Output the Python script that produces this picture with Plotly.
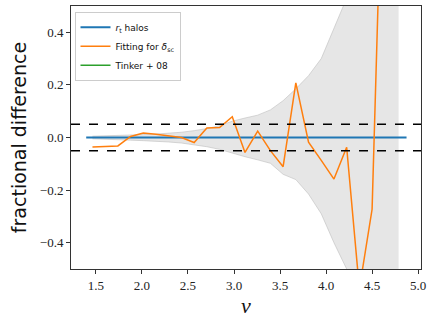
import plotly.graph_objects as go

# nu grid of the binned points
nu = [1.463, 1.601, 1.739, 1.877, 2.015, 2.153, 2.291, 2.429, 2.567, 2.705,
      2.843, 2.981, 3.119, 3.257, 3.395, 3.533, 3.671, 3.809, 3.947, 4.085,
      4.223, 4.361, 4.499, 4.637, 4.787]

# fractional difference for the delta_sc fit
frac_fit = [-0.036, -0.033, -0.032, 0.004, 0.017, 0.012, 0.006, 0.0, -0.019, 0.036,
            0.038, 0.079, -0.057, 0.024, -0.05, -0.111, 0.208, -0.018, -0.087, -0.158,
            -0.037, -0.575, -0.273, 1.4]

# shaded error band
band_hi = [0.005, 0.006, 0.007, 0.009, 0.011, 0.013, 0.016, 0.02, 0.026, 0.034,
           0.045, 0.062, 0.074, 0.085, 0.105, 0.14, 0.185, 0.235, 0.3, 0.41,
           0.52, 0.64, 0.76, 0.9, 1.0]
band_lo = [-0.005, -0.006, -0.008, -0.01, -0.012, -0.014, -0.017, -0.021, -0.027, -0.035,
           -0.045, -0.06, -0.073, -0.085, -0.098, -0.14, -0.16, -0.215, -0.29, -0.4,
           -0.5, -0.62, -0.75, -0.9, -1.0]

# reference (r_t halos) line
nu_ref = [1.395, 4.873]
frac_ref = [0.0, 0.0]

tol = 0.05

fig = go.Figure()

fig.add_trace(go.Scatter(x=nu, y=band_hi, mode='lines', line=dict(color='rgba(190,190,190,0.6)', width=1),
                         showlegend=False, hoverinfo='skip'))
fig.add_trace(go.Scatter(x=nu, y=band_lo, mode='lines', line=dict(color='rgba(190,190,190,0.6)', width=1),
                         fill='tonexty', fillcolor='rgba(128,128,128,0.2)', showlegend=False, hoverinfo='skip'))

fig.add_trace(go.Scatter(x=nu_ref, y=frac_ref, mode='lines', name='<i>r</i><sub>t</sub> halos',
                         line=dict(color='#1f77b4', width=2)))
fig.add_trace(go.Scatter(x=nu[:len(frac_fit)], y=frac_fit, mode='lines', name='Fitting for <i>δ</i><sub>sc</sub>',
                         line=dict(color='#ff7f0e', width=1.5)))
fig.add_trace(go.Scatter(x=[None], y=[None], mode='lines', name='Tinker + 08',
                         line=dict(color='#2ca02c', width=1.5)))

for yv in [tol, -tol]:
    fig.add_shape(type='line', xref='paper', x0=0, x1=1, yref='y', y0=yv, y1=yv,
                  line=dict(color='black', width=1.5, dash='dash'))

axis_style = dict(showline=True, linecolor='#333', linewidth=1, mirror=True, ticks='outside',
                  ticklen=4, tickcolor='#333', showgrid=False, zeroline=False,
                  tickfont=dict(family='Liberation Serif', size=13, color='#222'))

fig.update_xaxes(range=[1.23, 5.03], tickvals=[1.5, 2.0, 2.5, 3.0, 3.5, 4.0, 4.5, 5.0], tickformat='.1f',
                 title=dict(text='<i>ν</i>', font=dict(family='Liberation Serif', size=22, color='#111'), standoff=6),
                 **axis_style)
fig.update_yaxes(range=[-0.5, 0.5], tickvals=[-0.4, -0.2, 0.0, 0.2, 0.4], tickformat='.1f',
                 title=dict(text='fractional difference', font=dict(family='DejaVu Sans', size=19, color='#111'), standoff=8),
                 **axis_style)

fig.update_layout(
    width=436, height=322,
    margin=dict(l=71, r=15, t=6, b=53),
    paper_bgcolor='white', plot_bgcolor='white',
    legend=dict(x=0.01, y=0.978, xanchor='left', yanchor='top', traceorder='normal',
                bgcolor='rgba(255,255,255,0.8)', bordercolor='#ccc', borderwidth=1,
                font=dict(family='DejaVu Sans', size=9, color='#111'),
                itemwidth=30, tracegroupgap=0),
)

fig.write_html("out.html", config={'displayModeBar': False},
               post_script="document.body.style.margin='0px';")
